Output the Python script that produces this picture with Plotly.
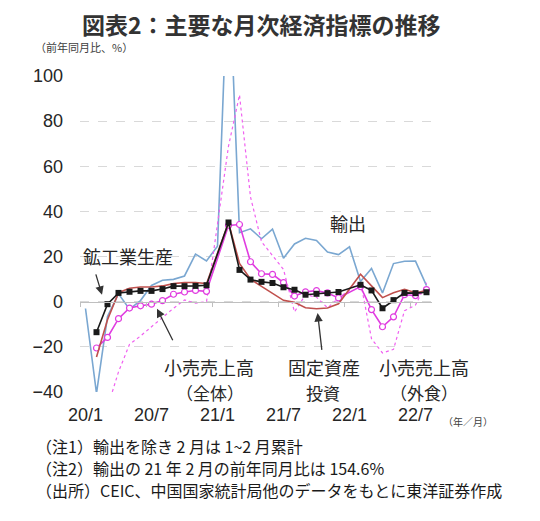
import plotly.graph_objects as go

# months 2020/1 - 2022/8 (Jan values of non-export series are Jan-Feb cumulative, shown at Feb)
months = [f"{y}/{m}" for y in (20, 21, 22) for m in range(1, 13)][:32]
tick_labels = ["20/1", "20/7", "21/1", "21/7", "22/1", "22/7"]

export = [-3, -40.6, -6.6, 3.5, -3.3, 0.5, 7.2, 9.5, 9.9, 11.4, 21.1, 18.1,
          24.6, 154.6, 30.6, 32.3, 27.9, 32.2, 19.3, 25.6, 28.1, 27.1, 22.0, 20.9,
          24.3, 9.0, 14.7, 3.9, 16.9, 17.9, 18.0, 7.1]
industrial = [None, -13.5, -1.1, 3.9, 4.4, 4.8, 4.8, 5.6, 6.9, 6.9, 7.0, 7.3,
              None, 35.1, 14.1, 9.8, 8.8, 8.3, 6.4, 5.3, 3.1, 3.5, 3.8, 4.3,
              None, 7.5, 5.0, -2.9, 0.7, 3.9, 3.8, 4.2]
retail = [None, -20.5, -15.8, -7.5, -2.8, -1.8, -1.1, 0.5, 3.3, 4.3, 5.0, 4.6,
          None, 33.8, 34.2, 17.7, 12.4, 12.1, 8.5, 2.5, 4.4, 4.9, 3.9, 1.7,
          None, 6.7, -3.5, -11.1, -6.7, 3.1, 2.7, 5.4]
catering = [None, -43.1, -46.8, -31.1, -18.9, -15.2, -11.0, -7.0, -2.9, 0.8, -0.6, 0.0,
            None, 68.9, 91.6, 46.4, 26.6, 20.5, 14.3, -4.5, 3.1, 2.0, -2.7, 1.6,
            None, 8.9, -16.4, -22.7, -21.1, -4.0, -1.5, 8.4]
fixed_inv = [None, -24.5, -8.0, 4.0, 6.0, 6.5, 6.5, 7.0, 8.0, 8.5, 8.5, 8.0,
             None, 35.0, 17.0, 10.0, 6.8, 3.8, 0.6, -0.3, -2.7, -3.1, -2.8, -0.9,
             None, 12.2, 7.0, 1.8, 4.0, 5.5, 4.0, 5.0]

FONT = "Liberation Sans, Arial, Noto Sans CJK JP"
JP = "Noto Sans CJK JP"
TXT = "#262626"

# page has an 8px body margin, plot area lands at x 80-432, y 76-392
def px(x):
    return (x - 80) / 352

def py(y):
    return (392 - y) / 316

fig = go.Figure()

fig.add_trace(go.Scatter(x=months, y=export, mode="lines", name="輸出",
                         line=dict(color="#7aa7d1", width=1.6), connectgaps=True))
fig.add_trace(go.Scatter(x=months, y=catering, mode="lines", name="小売売上高（外食）",
                         line=dict(color="#f060f0", width=1.2, dash="dot"), connectgaps=True))
fig.add_trace(go.Scatter(x=months, y=retail, mode="lines+markers", name="小売売上高（全体）",
                         line=dict(color="#e03ce0", width=1.6), connectgaps=True,
                         marker=dict(symbol="circle", size=6, color="white",
                                     line=dict(color="#e03ce0", width=1.2))))
fig.add_trace(go.Scatter(x=months, y=fixed_inv, mode="lines", name="固定資産投資",
                         line=dict(color="#c0504d", width=1.6), connectgaps=True))
fig.add_trace(go.Scatter(x=months, y=industrial, mode="lines+markers", name="鉱工業生産",
                         line=dict(color="#1a1a1a", width=1.6), connectgaps=True,
                         marker=dict(symbol="square", size=6, color="#1a1a1a")))
# carrier for the zero-line axis with its tick marks
fig.add_trace(go.Scatter(x=[], y=[], xaxis="x2", showlegend=False, hoverinfo="skip"))

fig.update_layout(
    width=532, height=513,
    margin=dict(l=72, r=108, t=68, b=129),
    paper_bgcolor="white", plot_bgcolor="white",
    showlegend=False,
    font=dict(family=FONT, color=TXT),
    xaxis=dict(type="category", categoryorder="array", categoryarray=months,
               range=[-0.5, 31.5], tickvals=tick_labels, ticktext=tick_labels,
               ticks="", showline=False, showgrid=False, zeroline=False,
               tickfont=dict(size=18, color=TXT), ticklabelstandoff=10),
    xaxis2=dict(overlaying="x", anchor="free", position=40 / 140,
                range=[-0.5, 31.5], showgrid=False, zeroline=False,
                showline=True, linecolor="#bfbfbf", linewidth=1.2,
                tickmode="array", tickvals=[-0.5, 5.5, 11.5, 17.5, 23.5, 29.5],
                ticks="outside", ticklen=4, tickcolor="#bfbfbf",
                showticklabels=False),
    yaxis=dict(range=[-40, 100], tickvals=[-40, -20, 0, 20, 40, 60, 80, 100],
               showgrid=True, gridcolor="#d9d9d9", griddash="dash", gridwidth=1,
               zeroline=False, showline=False, ticks="",
               tickfont=dict(size=18, color=TXT), ticklabelstandoff=16),
)

ann = []
# title and units
ann.append(dict(text="<b>図表2：主要な月次経済指標の推移</b>", xref="paper", yref="paper",
                x=px(261), y=py(24), xanchor="center", yanchor="middle",
                showarrow=False, font=dict(family=JP, size=23, color="#333333")))
ann.append(dict(text="（前年同月比、%）", xref="paper", yref="paper",
                x=px(33), y=py(47), xanchor="left", yanchor="middle",
                showarrow=False, font=dict(family=JP, size=11, color="#404040")))
ann.append(dict(text="（年／月）", xref="paper", yref="paper",
                x=px(441), y=py(421), xanchor="left", yanchor="middle",
                showarrow=False, font=dict(family=JP, size=10, color="#404040")))

# series labels: text, x (month index), y (pixel row), size
labels = [
    ("輸出", 23.9, 223, 18),
    ("鉱工業生産", 3.9, 256, 18),
    ("小売売上高", 11.2, 367, 18),
    ("（全体）", 11.3, 392, 17),
    ("固定資産", 21.7, 367, 18),
    ("投資", 21.6, 392, 17),
    ("小売売上高", 30.8, 367, 18),
    ("（外食）", 30.8, 392, 17),
]
for t, x, y, s in labels:
    ann.append(dict(text=t, x=x, y=py(y), xref="x", yref="paper", showarrow=False,
                    xanchor="center", yanchor="middle",
                    font=dict(family=JP, size=s, color=TXT)))

# arrows (tail -> head)
arrows = [(0.9, 12.8, 1.5, 3.1), (8.0, -17.7, 6.5, -3.1), (21.5, -22.0, 21.1, -5.0)]
for ax, ay, x, y in arrows:
    ann.append(dict(text="", x=x, y=y, ax=ax, ay=ay, xref="x", yref="y",
                    axref="x", ayref="y", showarrow=True, arrowhead=2,
                    arrowsize=1.3, arrowwidth=1.3, arrowcolor="#333333"))

# notes
notes = ["（注1）輸出を除き 2 月は 1~2 月累計",
         "（注2）輸出の 21 年 2 月の前年同月比は 154.6%",
         "（出所）CEIC、中国国家統計局他のデータをもとに東洋証券作成"]
for k, t in enumerate(notes):
    ann.append(dict(text=t, xref="paper", yref="paper",
                    x=px(34), y=py(446 + 22 * k),
                    xanchor="left", yanchor="middle", showarrow=False,
                    font=dict(family=JP, size=16, color="#1a1a1a")))

fig.update_layout(annotations=ann)

fig.write_html("out.html")
